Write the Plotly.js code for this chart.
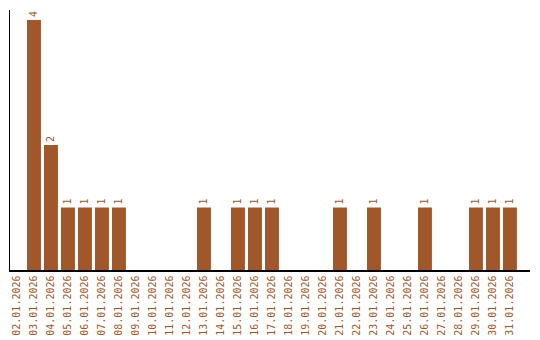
<!DOCTYPE html>
<html>
<head>
<meta charset="utf-8">
<script src="https://cdn.plot.ly/plotly-3.0.1.min.js"></script>
<style>html,body{margin:0;padding:0;background:#fff;}#chart{width:540px;height:340px;}</style>
</head>
<body>
<div id="chart"></div>
<script>
const dates = ["02.01.2026","03.01.2026","04.01.2026","05.01.2026","06.01.2026","07.01.2026","08.01.2026","09.01.2026","10.01.2026","11.01.2026","12.01.2026","13.01.2026","14.01.2026","15.01.2026","16.01.2026","17.01.2026","18.01.2026","19.01.2026","20.01.2026","21.01.2026","22.01.2026","23.01.2026","24.01.2026","25.01.2026","26.01.2026","27.01.2026","28.01.2026","29.01.2026","30.01.2026","31.01.2026"];
const counts = [0,4,2,1,1,1,1,0,0,0,0,1,0,1,1,1,0,0,0,1,0,1,0,0,1,0,0,1,1,1];
const labels = counts.map(v => v > 0 ? String(v) : "");

const color = "#A0572A";
const font = "DejaVu Sans Mono, monospace";

Plotly.newPlot("chart", [{
  type: "bar",
  x: dates,
  y: counts,
  text: labels,
  textposition: "outside",
  textangle: -90,
  cliponaxis: false,
  textfont: {family: font, size: 10, color: color},
  marker: {color: color},
  hoverinfo: "none"
}], {
  width: 540, height: 340,
  margin: {l: 10, r: 10, t: 10, b: 70},
  paper_bgcolor: "#fff", plot_bgcolor: "#fff",
  bargap: 0.18,
  showlegend: false,
  xaxis: {
    type: "category",
    range: [-0.41, 30.18],
    tickangle: -90,
    tickfont: {family: font, size: 10, color: color},
    showgrid: false, zeroline: false,
    showline: true, linecolor: "#000", linewidth: 1.5,
    ticks: "", ticklen: 0
  },
  yaxis: {
    range: [0, 4.16],
    showticklabels: false,
    showgrid: false, zeroline: false,
    showline: true, linecolor: "#000", linewidth: 1.5,
    ticks: ""
  }
}, {staticPlot: true});
</script>
</body>
</html>
